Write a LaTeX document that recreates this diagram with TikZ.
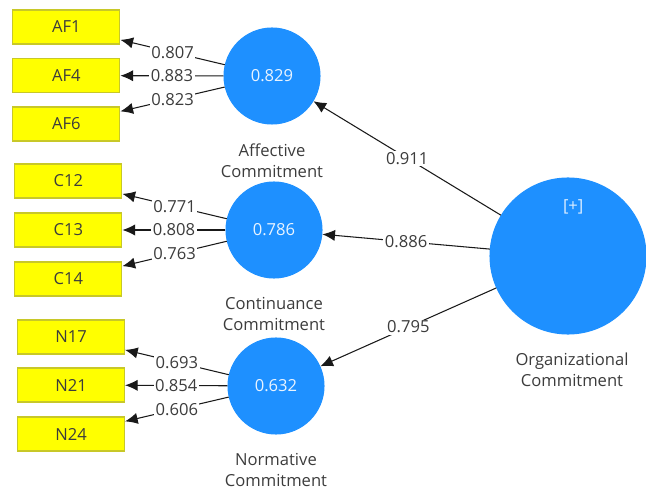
\documentclass[tikz,border=0pt]{standalone}
\usepackage{fontspec}
\setmainfont{Open Sans}
\usepackage{xcolor}
\usetikzlibrary{arrows.meta}

\definecolor{plsblue}{RGB}{30,144,255}
\definecolor{indyellow}{RGB}{255,255,0}
\definecolor{indborder}{RGB}{200,200,40}
\definecolor{txtgray}{RGB}{60,60,60}

\begin{document}
\begin{tikzpicture}[
            > = {Latex[length=9pt,width=8pt]}, % arrow head style
            every node/.style = {font=\fontsize{11.8}{15}\selectfont, text=txtgray},
            ind/.style = {shape=rectangle, draw=indborder, fill=indyellow, minimum width=2.675cm, minimum height=0.85cm, inner sep=0pt}, % indicator boxes
            lat/.style = {shape=circle, draw=plsblue, fill=plsblue, minimum size=2.4cm, inner sep=0pt, text=white!90!plsblue}, % constructs
            val/.style = {fill=white, inner sep=1pt}, % loadings on the lines
            line width = 0.75pt, % line style
            draw = black!90
        ]
\useasboundingbox (0,0) rectangle (16.15,-12.25);

% indicators
\node[ind] (AF1) at (1.66,-0.675) {AF1};
\node[ind] (AF4) at (1.66,-1.89) {AF4};
\node[ind] (AF6) at (1.66,-3.1) {AF6};
\node[ind] (C12) at (1.71,-4.525) {C12};
\node[ind] (C13) at (1.71,-5.75) {C13};
\node[ind] (C14) at (1.71,-6.975) {C14};
\node[ind] (N17) at (1.775,-8.425) {N17};
\node[ind] (N21) at (1.775,-9.625) {N21};
\node[ind] (N24) at (1.775,-10.85) {N24};

% constructs
\node[lat] (Aff) at (6.8,-1.9) {0.829};
\node[lat] (Con) at (6.85,-5.75) {0.786};
\node[lat] (Nor) at (6.9,-9.65) {0.632};
\node[lat, minimum size=3.9cm] (Org) at (14.2,-6.4) {};
\node[text=white!85!plsblue] (OrgPlus) at (14.33,-5.18) {[+]};

\node[align=center] (AffLbl) at (6.8,-4.01) {Affective\\Commitment};
\node[align=center] (ConLbl) at (6.85,-7.85) {Continuance\\Commitment};
\node[align=center] (NorLbl) at (6.9,-11.75) {Normative\\Commitment};
\node[align=center] (OrgLbl) at (14.3,-9.25) {Organizational\\Commitment};

% loadings
\path [->] (Aff) edge node[val] {0.807} (AF1);
\path [->] (Aff) edge node[val] {0.883} (AF4);
\path [->] (Aff) edge node[val] {0.823} (AF6);
\path [->] (Con) edge node[val] {0.771} (C12);
\path [->] (Con) edge node[val] {0.808} (C13);
\path [->] (Con) edge node[val] {0.763} (C14);
\path [->] (Nor) edge node[val] {0.693} (N17);
\path [->] (Nor) edge node[val] {0.854} (N21);
\path [->] (Nor) edge node[val] {0.606} (N24);

% second order paths
\path [->] (Org) edge node[val] {0.911} (Aff);
\path [->] (Org) edge node[val] {0.886} (Con);
\path [->] (Org) edge node[val] {0.795} (Nor);

\end{tikzpicture}
\end{document}
